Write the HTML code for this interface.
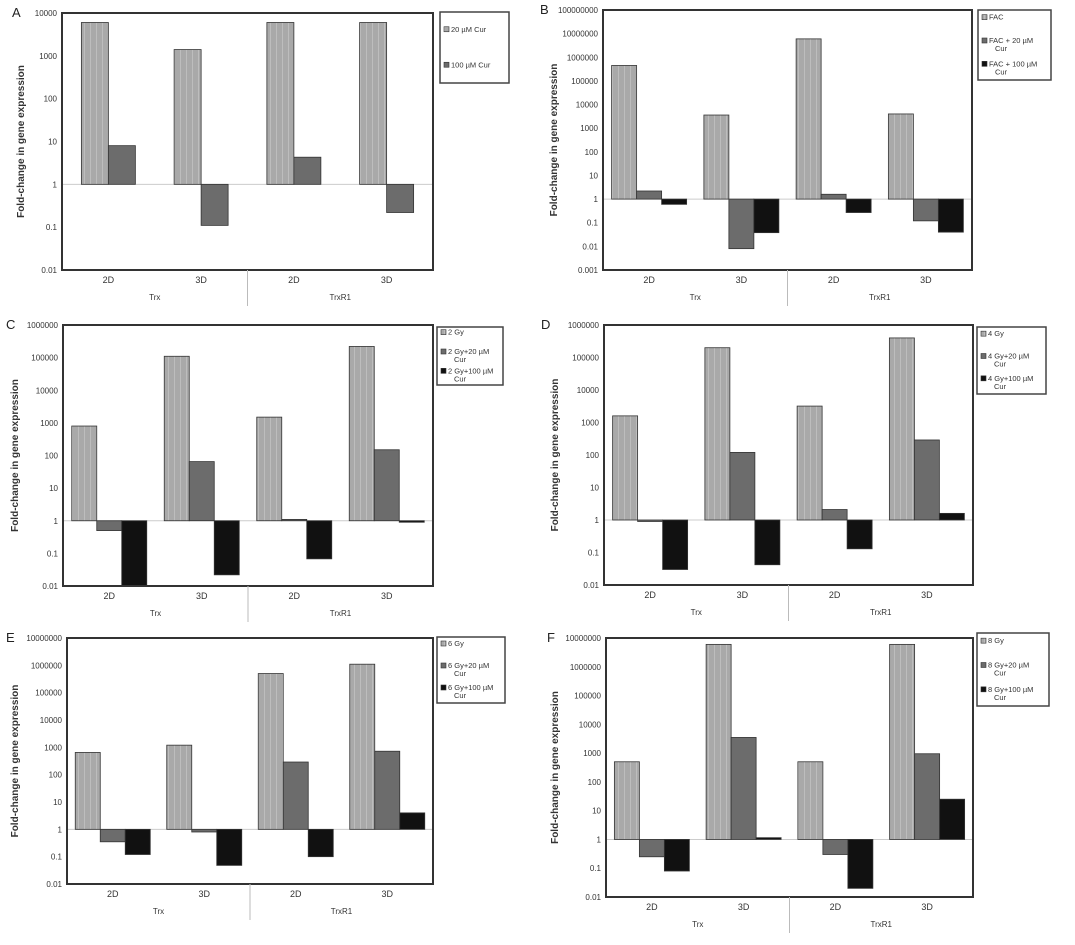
<!DOCTYPE html>
<html><head><meta charset="utf-8"><style>
html,body{margin:0;padding:0;background:#fff;}
svg{display:block;font-family:"Liberation Sans",sans-serif;}
</style></head><body>
<svg id="fig" width="1075" height="945" viewBox="0 0 1075 945">
<defs>
<pattern id="stripe" width="6" height="6" patternUnits="userSpaceOnUse"><rect width="6" height="6" fill="#a9a9a9"/><rect x="0" width="1" height="6" fill="#bdbdbd"/></pattern>
</defs>
</svg>
<script>
const groups = ["2D","3D","2D","3D"];
const genes = ["Trx","TrxR1"];
// Panel A
const seriesA1 = [6000,1400,6000,6000];
const seriesA2 = [8,0.11,4.3,0.22];
const legendA = ["20 µM Cur","100 µM Cur"];
// Panel B
const seriesB1 = [450000,3600,6000000,4000];
const seriesB2 = [2.2,0.008,1.6,0.12];
const seriesB3 = [0.6,0.038,0.27,0.04];
const legendB = ["FAC","FAC + 20 µM Cur","FAC + 100 µM Cur"];
// Panel C
const seriesC1 = [800,110000,1500,220000];
const seriesC2 = [0.5,65,1.1,150];
const seriesC3 = [0.01,0.022,0.068,0.9];
const legendC = ["2 Gy","2 Gy+20 µM Cur","2 Gy+100 µM Cur"];
// Panel D
const seriesD1 = [1600,200000,3200,400000];
const seriesD2 = [0.9,120,2.1,290];
const seriesD3 = [0.03,0.042,0.13,1.6];
const legendD = ["4 Gy","4 Gy+20 µM Cur","4 Gy+100 µM Cur"];
// Panel E
const seriesE1 = [650,1200,500000,1100000];
const seriesE2 = [0.35,0.8,290,720];
const seriesE3 = [0.12,0.048,0.1,4];
const legendE = ["6 Gy","6 Gy+20 µM Cur","6 Gy+100 µM Cur"];
// Panel F
const seriesF1 = [500,6000000,500,6000000];
const seriesF2 = [0.25,3500,0.3,950];
const seriesF3 = [0.08,1.15,0.02,25];
const legendF = ["8 Gy","8 Gy+20 µM Cur","8 Gy+100 µM Cur"];

const NS="http://www.w3.org/2000/svg";
const svg=document.getElementById('fig');
const fills=["url(#stripe)","#6c6c6c","#111"];
function mk(tag,attrs,parent){const e=document.createElementNS(NS,tag);for(const k in attrs)e.setAttribute(k,attrs[k]);(parent||svg).appendChild(e);return e;}

function panel(cfg){
  const g=mk('g',{});
  
  
  const {x0,x1,y0,y1,maxE,minE}=cfg;
  const yScale=v=>y0+(maxE-Math.log10(v))*(y1-y0)/(maxE-minE);
  const y1v=yScale(1);
  const lt=mk('text',{x:cfg.lx,y:y0+4,'font-size':13,fill:'#222'},g);lt.textContent=cfg.letter;
  
  
  for(let e=minE;e<=maxE;e++){
    const t=mk('text',{x:x0-5,y:yScale(Math.pow(10,e))+3,'font-size':8,'text-anchor':'end',fill:'#333'},g);
    t.textContent=e<0?(Math.pow(10,e)).toFixed(-e):String(Math.pow(10,e));
    
    
  }
  const yt=mk('text',{x:0,y:0,'font-size':10,'font-weight':'bold','text-anchor':'middle',fill:'#333',transform:`translate(${cfg.tx},${(y0+y1)/2}) rotate(-90)`},g);
  yt.textContent="Fold-change in gene expression";
  
  
  const bl=mk('line',{x1:x0,x2:x1,y1:y1v,y2:y1v,stroke:'#ccc','stroke-width':1},g);
  
  
  const W=x1-x0, n=cfg.series.length, bw=cfg.bw;
  for(let i=0;i<4;i++){
    const c=x0+W*(0.125+0.25*i);
    cfg.series.forEach((s,j)=>{
      const bx=c+(j-n/2)*bw;
      const yv=yScale(Math.max(s[i],Math.pow(10,minE)));
      const r=mk('rect',{x:bx,y:Math.min(yv,y1v),width:bw,height:Math.max(1,Math.abs(yv-y1v)),fill:fills[j],stroke:'#333','stroke-width':0.8},g);
      
      
    });
    const gl=mk('text',{x:c,y:y1+13,'font-size':9,'text-anchor':'middle',fill:'#333'},g);gl.textContent=groups[i];
    
    
  }
  mk('rect',{x:x0,y:y0,width:W,height:y1-y0,fill:'none',stroke:'#333','stroke-width':2},g);
  genes.forEach((gn,k)=>{
    const t=mk('text',{x:x0+W*(0.25+0.5*k),y:y1+30,'font-size':8,'text-anchor':'middle',fill:'#333'},g);t.textContent=gn;
    
    
  });
  const dv=mk('line',{x1:(x0+x1)/2,x2:(x0+x1)/2,y1:y1,y2:y1+36,stroke:'#bbb','stroke-width':1},g);
  
  
  const [lx0,ly0,lx1,ly1]=cfg.leg;
  const lg=mk('g',{},g);
  
  
  mk('rect',{x:lx0,y:ly0,width:lx1-lx0,height:ly1-ly0,fill:'#fff',stroke:'#444','stroke-width':1.5},lg);
  const step=(ly1-ly0)/cfg.labels.length;
  cfg.labels.forEach((lab,j)=>{
    const yy=ly0+step*j+step/2-(cfg.labels.length>2?4:0);
    mk('rect',{x:lx0+4,y:yy-3,width:5,height:5,fill:fills[j],stroke:'#333','stroke-width':0.6},lg);
    const words=lab.split(' ');
    const t=mk('text',{x:lx0+11,y:yy+2,'font-size':7.5,fill:'#333'},lg);
    if(cfg.labels.length>2 && lab.length>8){
      const last=words.pop();
      t.textContent=words.join(' ');
      const t2=mk('text',{x:lx0+17,y:yy+10,'font-size':7.5,fill:'#333'},lg);t2.textContent=last;
    } else t.textContent=lab;
    
    
  });
}
panel({letter:'A',lx:12,tx:24,x0:62,x1:433,y0:13,y1:270,maxE:4,minE:-2,bw:27,series:[seriesA1,seriesA2],labels:legendA,leg:[440,12,509,83]});
panel({letter:'B',lx:540,tx:557,x0:603,x1:972,y0:10,y1:270,maxE:8,minE:-3,bw:25,series:[seriesB1,seriesB2,seriesB3],labels:legendB,leg:[978,10,1051,80]});
panel({letter:'C',lx:6,tx:18,x0:63,x1:433,y0:325,y1:586,maxE:6,minE:-2,bw:25,series:[seriesC1,seriesC2,seriesC3],labels:legendC,leg:[437,327,503,385]});
panel({letter:'D',lx:541,tx:558,x0:604,x1:973,y0:325,y1:585,maxE:6,minE:-2,bw:25,series:[seriesD1,seriesD2,seriesD3],labels:legendD,leg:[977,327,1046,394]});
panel({letter:'E',lx:6,tx:18,x0:67,x1:433,y0:638,y1:884,maxE:7,minE:-2,bw:25,series:[seriesE1,seriesE2,seriesE3],labels:legendE,leg:[437,637,505,703]});
panel({letter:'F',lx:547,tx:558,x0:606,x1:973,y0:638,y1:897,maxE:7,minE:-2,bw:25,series:[seriesF1,seriesF2,seriesF3],labels:legendF,leg:[977,633,1049,706]});
</script>
</body></html>
